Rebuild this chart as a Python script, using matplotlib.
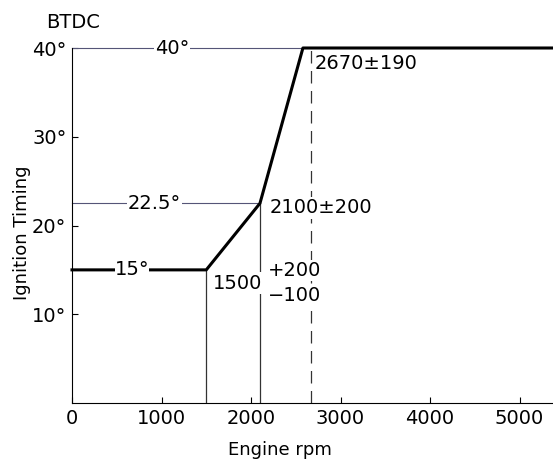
import matplotlib.pyplot as plt

# Ignition advance curve (rpm, degrees BTDC)
rpm = [0, 1500, 2100, 2580, 5400]
advance = [15, 15, 22.5, 40, 40]

# Reference levels and speeds
levels = [40, 22.5]
level_ends = [2580, 2100]
level_labels = ["40°", "22.5°"]
level_label_x = [1120, 920]

x_ticks = [0, 1000, 2000, 3000, 4000, 5000]
y_ticks = [10, 20, 30, 40]
y_tick_labels = ["10°", "20°", "30°", "40°"]

plt.rcParams['font.family'] = ['DejaVu Sans']
fs = 14
fig = plt.figure(figsize=(5.53, 4.62), dpi=100)
ax = fig.add_axes([72 / 553, 59 / 462, 481 / 553, 355 / 462])

# Thin reference lines
for lv, xe, lab, lx in zip(levels, level_ends, level_labels, level_label_x):
    ax.plot([0, xe], [lv, lv], color="#555577", lw=0.8, clip_on=False)
    ax.text(lx, lv, lab, ha="center", va="center", fontsize=fs,
            bbox=dict(facecolor="white", edgecolor="none", pad=0.5))

# Vertical markers
ax.plot([1500, 1500], [0, 15], color="#333333", lw=0.9)
ax.plot([2100, 2100], [0, 22.5], color="#333333", lw=0.9)
ax.plot([2670, 2670], [0, 40], color="#333333", lw=0.9, linestyle=(0, (10, 6)))

# Main curve
ax.plot(rpm, advance, color="black", lw=2.2, clip_on=False, zorder=3)

ax.text(670, 15, "15°", ha="center", va="center", fontsize=fs, zorder=4,
        bbox=dict(facecolor="white", edgecolor="none", pad=0))
ax.text(2715, 38.3, "2670±190", ha="left", va="center", fontsize=fs,
        bbox=dict(facecolor="white", edgecolor="none", pad=1))
ax.text(2212, 22.0, "2100±200", ha="left", va="center", fontsize=fs,
        bbox=dict(facecolor="white", edgecolor="none", pad=1))
ax.text(1575, 13.5, "1500", ha="left", va="center", fontsize=fs,
        bbox=dict(facecolor="white", edgecolor="none", pad=1))
ax.text(2190, 14.9, "+200", ha="left", va="center", fontsize=fs,
        bbox=dict(facecolor="white", edgecolor="none", pad=0.5))
ax.text(2190, 12.1, "−100", ha="left", va="center", fontsize=fs,
        bbox=dict(facecolor="white", edgecolor="none", pad=0.5))

ax.set_xlim(0, 5374)
ax.set_ylim(0, 40)
ax.set_xticks(x_ticks)
ax.set_yticks(y_ticks)
ax.set_yticklabels(y_tick_labels)
ax.tick_params(direction="in", length=4, labelsize=fs, pad=4)
for s in ["top", "right"]:
    ax.spines[s].set_visible(False)

ax.set_xlabel("Engine rpm", fontsize=13)
ax.xaxis.set_label_coords(0.432, -0.108)
ax.set_ylabel("Ignition Timing", fontsize=13)
ax.yaxis.set_label_coords(-0.085, 0.479)
fig.text(73 / 553, 1 - 22 / 462, "BTDC", ha="center", va="center", fontsize=fs)

fig.savefig("out.png", dpi=100)
